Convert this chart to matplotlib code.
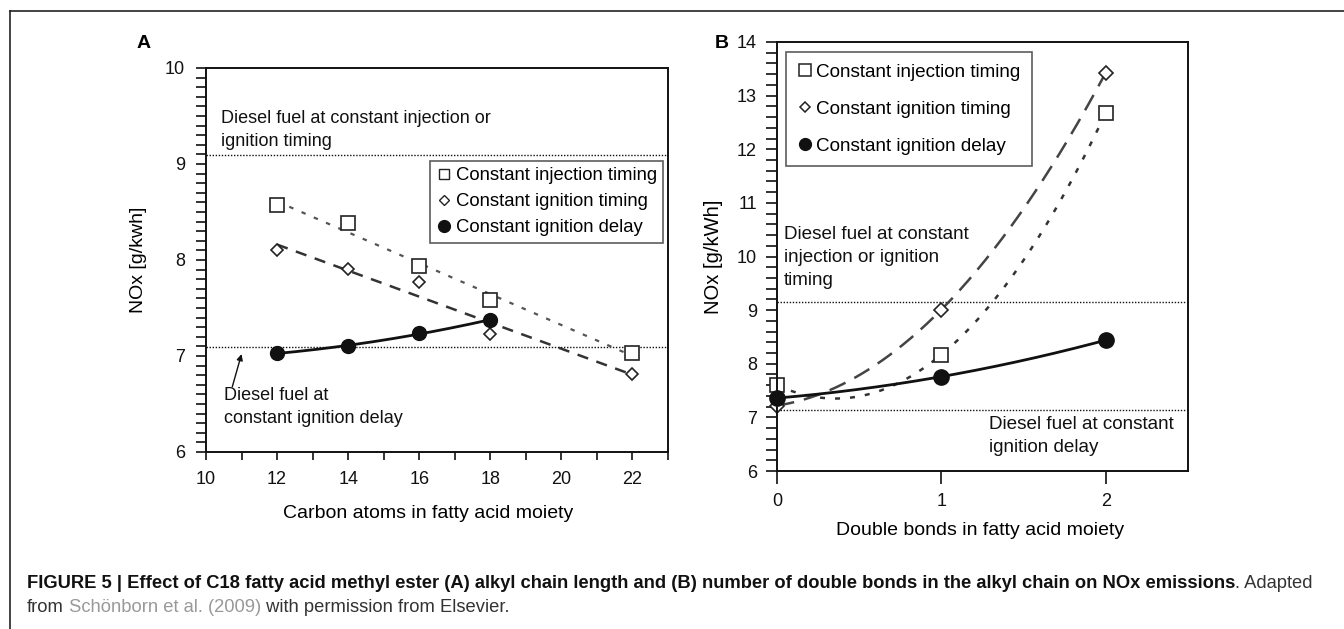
import numpy as np
import matplotlib
matplotlib.use('Agg')
import matplotlib.pyplot as plt
from matplotlib.lines import Line2D
from matplotlib.ticker import MultipleLocator

plt.rcParams['font.family'] = ['Liberation Sans', 'DejaVu Sans']

# panel A: carbon atoms in fatty acid moiety
carbon = [12, 14, 16, 18, 22]
a_injection = [8.57, 8.39, 7.94, 7.58, 7.03]
a_ignition = [8.10, 7.91, 7.77, 7.23, 6.81]
carbon_delay = [12, 14, 16, 18]
a_delay = [7.03, 7.10, 7.24, 7.375]
a_diesel_timing = 9.09
a_diesel_delay = 7.09

# panel B: double bonds in fatty acid moiety
bonds = [0, 1, 2]
b_injection = [7.60, 8.17, 12.68]
b_ignition = [7.22, 9.01, 13.43]
b_delay = [7.36, 7.76, 8.44]
b_diesel_timing = 9.16
b_diesel_delay = 7.13

labels = ['Constant injection timing', 'Constant ignition timing', 'Constant ignition delay']

fig = plt.figure(figsize=(13.44, 6.29), dpi=100)
W, H = 1344, 629


def px_axes(l, t, r, b):
    return fig.add_axes([l / W, 1 - b / H, (r - l) / W, (b - t) / H])


def trend(x, y, deg, lo, hi):
    c = np.polyfit(x, y, deg)
    xs = np.linspace(lo, hi, 200)
    return xs, np.polyval(c, xs)


def style_axes(ax, tl_x, tl_y, pad_x, pad_y):
    for s in ax.spines.values():
        s.set_linewidth(1.4)
        s.set_color('#111111')
    ax.tick_params(axis='x', which='both', direction='out', length=tl_x, width=1.2,
                   labelsize=13, pad=pad_x, colors='#111111')
    ax.tick_params(axis='y', which='both', direction='out', length=tl_y, width=1.2,
                   labelsize=13, pad=pad_y, colors='#111111')


dots = (0, (1, 1.2))

# ---------- panel A ----------
ax1 = px_axes(206, 68, 668, 452)
ax1.set_xlim(10, 23)
ax1.set_ylim(6, 10)
ax1.xaxis.set_major_locator(MultipleLocator(2))
ax1.xaxis.set_minor_locator(MultipleLocator(1))
ax1.yaxis.set_major_locator(MultipleLocator(1))
ax1.yaxis.set_minor_locator(MultipleLocator(0.1))
ax1.set_xticks([10, 12, 14, 16, 18, 20, 22])
style_axes(ax1, 6, 7, 8, 8)

ax1.axhline(a_diesel_timing, color='#111111', lw=1.0, ls=dots)
ax1.axhline(a_diesel_delay, color='#111111', lw=1.0, ls=dots)

xs, ys = trend(carbon, a_injection, 1, 12, 22)
ax1.plot(xs, ys, color='#555555', lw=1.6, ls=(0, (2, 4)))
xs, ys = trend(carbon, a_ignition, 1, 12, 22)
ax1.plot(xs, ys, color='#333333', lw=1.8, ls=(0, (4.5, 3.5)))
xs, ys = trend(carbon_delay, a_delay, 2, 12, 18)
ax1.plot(xs, ys, color='#111111', lw=2.0)

ax1.plot(carbon, a_injection, 's', ms=9.6, mfc='white', mec='#222222', mew=1.2)
ax1.plot(carbon, a_ignition, 'D', ms=5.8, mfc='white', mec='#222222', mew=1.2)
ax1.plot(carbon_delay, a_delay, 'o', ms=10, mfc='#111111', mec='#111111')

ax1.text(10.41, 9.355, 'Diesel fuel at constant injection or\nignition timing',
         fontsize=13, va='center', ha='left', linespacing=1.45, color='#111111')
ax1.text(10.52, 6.465, 'Diesel fuel at\nconstant ignition delay',
         fontsize=13, va='center', ha='left', linespacing=1.45, color='#111111')
ax1.annotate('', xy=(11.0, 7.02), xytext=(10.74, 6.68),
             arrowprops=dict(arrowstyle='-|>', color='#111111', lw=1.0,
                             mutation_scale=9, shrinkA=0, shrinkB=0))

ax1.set_ylabel('NOx [g/kwh]', fontsize=14)
ax1.yaxis.set_label_coords(-0.128, 0.5)
ax1.set_xlabel('Carbon atoms in fatty acid moiety', fontsize=14)
ax1.xaxis.set_label_coords(0.48, -0.138)

h1 = [Line2D([], [], ls='none', marker='s', ms=7.5, mfc='white', mec='#222222', mew=1.0),
      Line2D([], [], ls='none', marker='D', ms=5.0, mfc='white', mec='#222222', mew=1.0),
      Line2D([], [], ls='none', marker='o', ms=8.5, mfc='#111111', mec='#111111')]
leg1 = ax1.legend(h1, labels, loc='upper right', bbox_to_anchor=(0.99, 0.759),
                  fontsize=13.3, frameon=True, fancybox=False, handlelength=0.8,
                  handletextpad=0.25, labelspacing=0.5, borderpad=0.35,
                  borderaxespad=0)
leg1.get_frame().set_edgecolor('#333333')
leg1.get_frame().set_linewidth(1.2)

# ---------- panel B ----------
ax2 = px_axes(777, 42, 1188, 471)
ax2.set_xlim(0, 2.5)
ax2.set_ylim(6, 14)
ax2.set_xticks([0, 1, 2])
ax2.yaxis.set_major_locator(MultipleLocator(1))
ax2.yaxis.set_minor_locator(MultipleLocator(0.2))
style_axes(ax2, 9, 8, 7, 6.5)

ax2.axhline(b_diesel_timing, color='#111111', lw=1.0, ls=dots)
ax2.axhline(b_diesel_delay, color='#111111', lw=1.0, ls=dots)

xs, ys = trend(bonds, b_ignition, 2, 0, 2)
ax2.plot(xs, ys, color='#444444', lw=1.8, ls=(0, (7, 4)))
xs, ys = trend(bonds, b_injection, 2, 0, 2)
ax2.plot(xs, ys, color='#333333', lw=1.8, ls=(0, (2, 4)))
xs, ys = trend(bonds, b_delay, 2, 0, 2)
ax2.plot(xs, ys, color='#111111', lw=2.0)

ax2.plot(bonds, b_injection, 's', ms=9.6, mfc='white', mec='#222222', mew=1.2, clip_on=False)
ax2.plot(bonds, b_ignition, 'D', ms=7, mfc='white', mec='#222222', mew=1.2, clip_on=False)
ax2.plot(bonds, b_delay, 'o', ms=11, mfc='#111111', mec='#111111', clip_on=False)

ax2.text(0.04, 9.98, 'Diesel fuel at constant\ninjection or ignition\ntiming',
         fontsize=13.6, va='center', ha='left', linespacing=1.45, color='#111111')
ax2.text(1.288, 6.66, 'Diesel fuel at constant\nignition delay',
         fontsize=13.6, va='center', ha='left', linespacing=1.45, color='#111111')

ax2.set_ylabel('NOx [g/kWh]', fontsize=14.5)
ax2.yaxis.set_label_coords(-0.132, 0.5)
ax2.set_xlabel('Double bonds in fatty acid moiety', fontsize=14)
ax2.xaxis.set_label_coords(0.494, -0.118)

h2 = [Line2D([], [], ls='none', marker='s', ms=8, mfc='white', mec='#222222', mew=1.1),
      Line2D([], [], ls='none', marker='D', ms=5.4, mfc='white', mec='#222222', mew=1.1),
      Line2D([], [], ls='none', marker='o', ms=8.5, mfc='#111111', mec='#111111')]
leg2 = ax2.legend(h2, labels, loc='upper left', bbox_to_anchor=(0.022, 0.976),
                  fontsize=13.6, frameon=True, fancybox=False, handlelength=0.8,
                  handletextpad=0.2, labelspacing=1.05, borderpad=0.6,
                  borderaxespad=0)
leg2.get_frame().set_edgecolor('#333333')
leg2.get_frame().set_linewidth(1.2)

# panel letters
fig.text(144 / W, 1 - 43 / H, 'A', fontsize=14, fontweight='bold', ha='center', va='center')
fig.text(722 / W, 1 - 43 / H, 'B', fontsize=14, fontweight='bold', ha='center', va='center')

# frame around figure + caption
fig.add_artist(Line2D([10 / W, 1], [1 - 11 / H, 1 - 11 / H], color='#222222', lw=1.2))
fig.add_artist(Line2D([10 / W, 10 / W], [0, 1 - 11 / H], color='#222222', lw=1.2))

renderer = fig.canvas.get_renderer()
y1 = 1 - 584 / H
y2 = 1 - 608 / H
x = 27 / W
pieces1 = [('FIGURE 5 | Effect of C18 fatty acid methyl ester (A) alkyl chain length and (B) '
            'number of double bonds in the alkyl chain on NOx emissions', 'bold', '#111111'),
           ('. Adapted', 'normal', '#333333')]
for s, w, c in pieces1:
    t = fig.text(x, y1, s, fontsize=13.2, fontweight=w, color=c, ha='left', va='center')
    x = t.get_window_extent(renderer).x1 / W
x = 27 / W
pieces2 = [('from', 'normal', '#333333'),
           (' Schönborn et al. (2009)', 'normal', '#999999'),
           (' with permission from Elsevier.', 'normal', '#333333')]
for s, w, c in pieces2:
    t = fig.text(x, y2, s, fontsize=13.2, fontweight=w, color=c, ha='left', va='center')
    x = t.get_window_extent(renderer).x1 / W

fig.savefig('out.png', dpi=100)
